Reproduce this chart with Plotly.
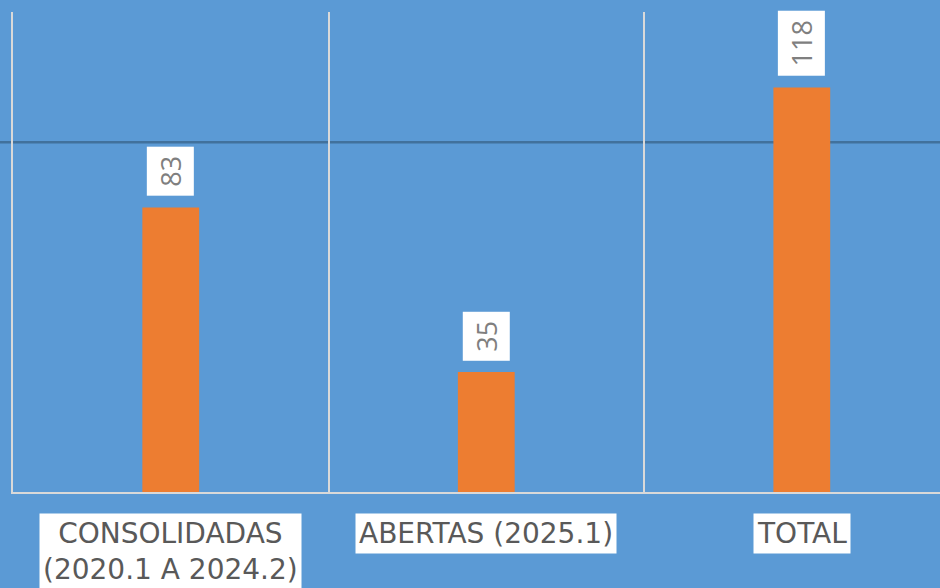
import plotly.graph_objects as go

categories = ["CONSOLIDADAS<br>(2020.1 A 2024.2)", "ABERTAS (2025.1)", "TOTAL"]
values = [83, 35, 118]
reference_level = 102
y_max = 140

BG = "#5B9AD5"
BAR = "#ED7D31"
GRID = "#D9D9D9"

fig = go.Figure()
fig.add_trace(go.Bar(
    x=categories, y=values, width=0.18,
    marker=dict(color=BAR, line=dict(width=0)),
    hoverinfo="x+y",
))

annotations = []
for c, v in zip(categories, values):
    label = str(v)
    annotations.append(dict(
        x=c, y=v, xref="x", yref="y", text=label, showarrow=False,
        textangle=-90, yanchor="bottom", xanchor="center", yshift=11,
        bgcolor="white", borderpad=0, width=16 * len(label) + 16, height=46,
        font=dict(family="Liberation Sans Narrow, Open Sans, sans-serif", size=27, color="#7F7F7F"),
    ))
    annotations.append(dict(
        x=c, y=0, xref="x", yref="paper", text=c, showarrow=False,
        yanchor="top", xanchor="center", yshift=-21,
        bgcolor="white", borderpad=3,
        font=dict(family="DejaVu Sans, sans-serif", size=28, color="#595959"),
    ))

fig.add_shape(type="line", xref="paper", yref="y", x0=-0.02, x1=1.0,
              y0=reference_level, y1=reference_level,
              line=dict(color="#41719C", width=2.5), layer="below")

fig.update_layout(
    width=940, height=588,
    margin=dict(l=13, r=0, t=12, b=96),
    paper_bgcolor=BG, plot_bgcolor=BG,
    showlegend=False,
    annotations=annotations,
    xaxis=dict(type="category", range=[-0.5, 2.438], tickson="boundaries",
               showgrid=True, gridcolor=GRID, gridwidth=2,
               showticklabels=False, ticks="", showline=True,
               linecolor=GRID, linewidth=2, zeroline=False),
    yaxis=dict(range=[0, y_max], showgrid=False, showticklabels=False,
               ticks="", zeroline=False, showline=True,
               linecolor=GRID, linewidth=2),
)

fig.write_html(
    "out.html",
    config={"displayModeBar": False},
    post_script="document.body.style.margin='0';document.body.style.overflow='hidden';document.body.style.background='" + BG + "';",
)
